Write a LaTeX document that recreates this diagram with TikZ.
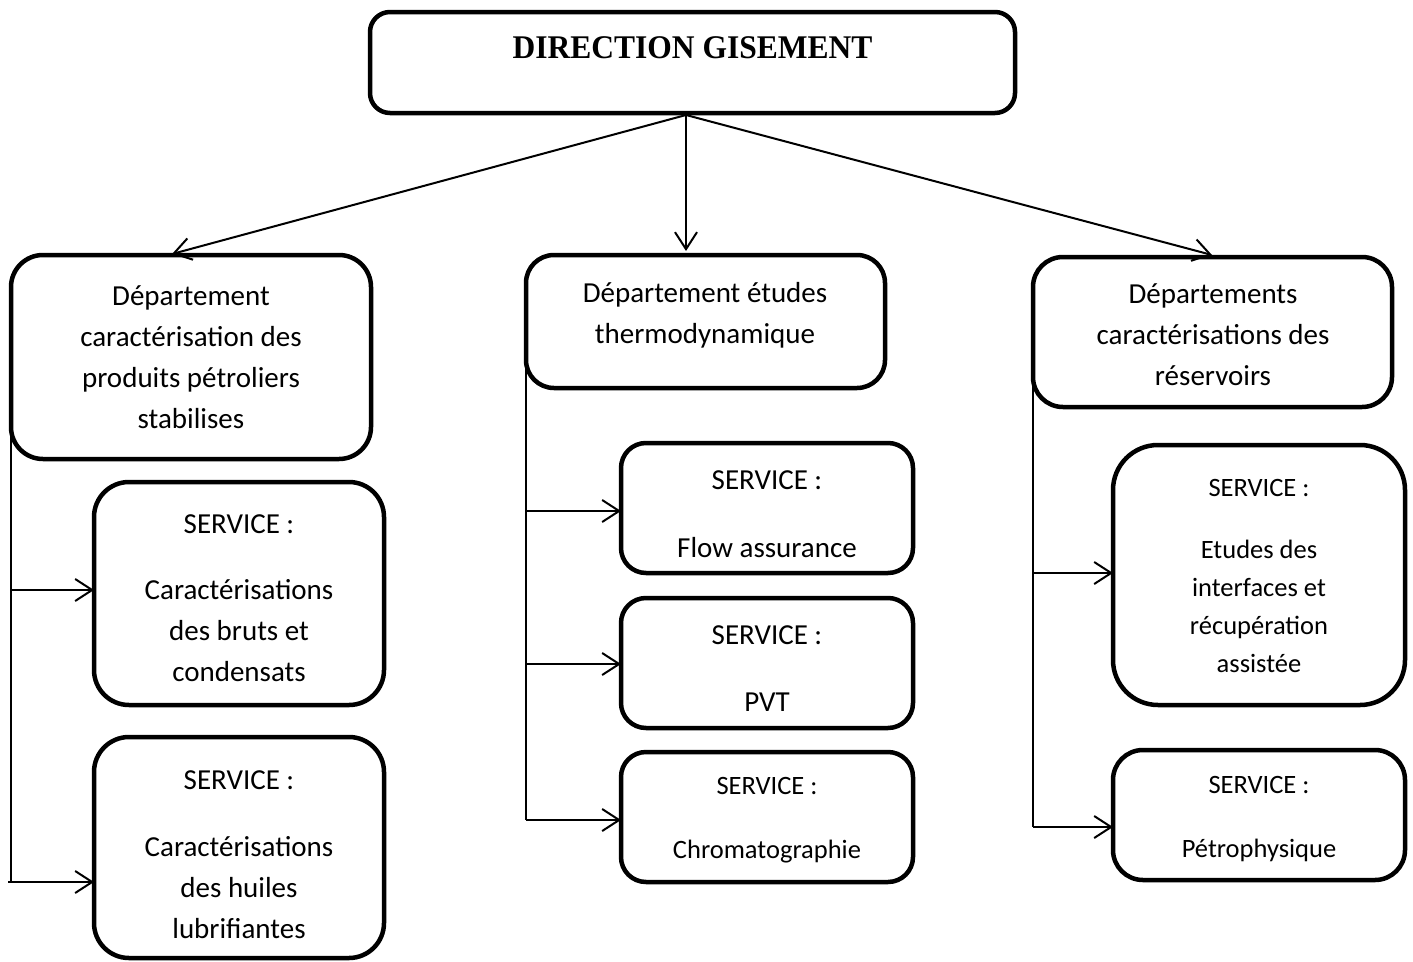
\documentclass[tikz,border=0pt]{standalone}
\usepackage{fontspec}
\usepackage{graphicx}
\setmainfont{Carlito}
\newfontfamily\titlefont{Liberation Serif}
\usetikzlibrary{arrows.meta}
\tikzset{
  box/.style={draw, line width=4.5pt, rounded corners=#1, inner sep=0pt, outer sep=0pt},
  box/.default=30pt,
  txtA/.style={font=\fontsize{29}{41}\selectfont, align=center, inner sep=0pt},
  txtB/.style={font=\fontsize{26.5}{38}\selectfont, align=center, inner sep=0pt},
  bus/.style={line width=2pt},
  arr/.style={line width=2pt, -{Straight Barb[length=17pt,width=22pt,line width=2pt]}},
}
\begin{document}
\begin{tikzpicture}[x=1pt, y=-1pt]
\useasboundingbox (0,0) rectangle (1413,961);

% head of the organisation
\node[box=20pt, minimum width=645pt, minimum height=101pt] (top) at (692.5,62.5) {};
\node[font=\titlefont\bfseries\fontsize{31.5}{38}\selectfont, inner sep=0pt] (toptxt) at (692.5,48) {\scalebox{1}[1.05]{DIRECTION GISEMENT}};

% departments
\node[box=32pt, minimum width=360pt, minimum height=204pt] (d1) at (191,357) {};
\node[txtA] (d1t) at (191,358.5) {\strut Département\\ \strut caractérisation des\\ \strut produits pétroliers\\ \strut stabilises};

\node[box=28pt, minimum width=359pt, minimum height=133pt] (d2) at (705.5,321.5) {};
\node[txtA] (d2t) at (705,314.5) {\strut Département études\\ \strut thermodynamique};

\node[box=30pt, minimum width=359pt, minimum height=150pt] (d3) at (1212.5,332) {};
\node[txtA] (d3t) at (1213,336) {\strut Départements\\ \strut caractérisations des\\ \strut réservoirs};

% services of the first department
\node[box=35pt, minimum width=290pt, minimum height=223pt] (s1) at (239,593.5) {};
\node[txtA] (s1t) at (239,599) {\strut SERVICE :\\[25pt] \strut Caractérisations\\ \strut des bruts et\\ \strut condensats};

\node[box=35pt, minimum width=290pt, minimum height=221pt] (s2) at (239,847.5) {};
\node[txtA] (s2t) at (239,855.5) {\strut SERVICE :\\[26pt] \strut Caractérisations\\ \strut des huiles\\ \strut lubrifiantes};

% services of the second department
\node[box=25pt, minimum width=292pt, minimum height=130pt] (m1) at (767,508) {};
\node[txtA] (m1t) at (767,515) {\strut SERVICE :\\[27pt] \strut Flow assurance};

\node[box=25pt, minimum width=292pt, minimum height=130pt] (m2) at (767,663) {};
\node[txtA] (m2t) at (767,669.5) {\strut SERVICE :\\[26pt] \strut PVT};

\node[box=25pt, minimum width=292pt, minimum height=130pt] (m3) at (767,817) {};
\node[txtB] (m3t) at (767,819) {\strut SERVICE :\\[26pt] \strut Chromatographie};

% services of the third department
\node[box=45pt, minimum width=292pt, minimum height=260pt] (r1) at (1259,575) {};
\node[txtB] (r1t) at (1259,577) {\strut SERVICE :\\[24pt] \strut Etudes des\\ \strut interfaces et\\ \strut récupération\\ \strut assistée};

\node[box=30pt, minimum width=292pt, minimum height=130pt] (r2) at (1259,815) {};
\node[txtB] (r2t) at (1259,818) {\strut SERVICE :\\[26pt] \strut Pétrophysique};

% links from the head to the departments
\coordinate (hub) at (686,115);
\coordinate (in1) at (172,254);
\coordinate (in2) at (686,251);
\coordinate (in3) at (1212,255);
\draw[arr] (hub) -- (in1);
\draw[arr] (hub) -- (in2);
\draw[arr] (hub) -- (in3);

% first department bus
\coordinate (l1) at (11,590);
\coordinate (lend) at (11,882);
\coordinate (l2) at (8,882);
\draw[bus] (d1.west) -- (lend);
\draw[arr] (l1) -- (s1.west |- l1);
\draw[arr] (l2) -- (s2.west |- l2);

% second department bus
\coordinate (c1) at (526,511);
\coordinate (c2) at (526,664);
\coordinate (c3) at (526,820);
\draw[bus] (d2.west) -- (c3);
\draw[arr] (c1) -- (m1.west |- c1);
\draw[arr] (c2) -- (m2.west |- c2);
\draw[arr] (c3) -- (m3.west |- c3);

% third department bus
\coordinate (e1) at (1033,573);
\coordinate (e2) at (1033,827);
\draw[bus] (d3.west) -- (e2);
\draw[arr] (e1) -- (r1.west |- e1);
\draw[arr] (e2) -- (r2.west |- e2);
\end{tikzpicture}
\end{document}
